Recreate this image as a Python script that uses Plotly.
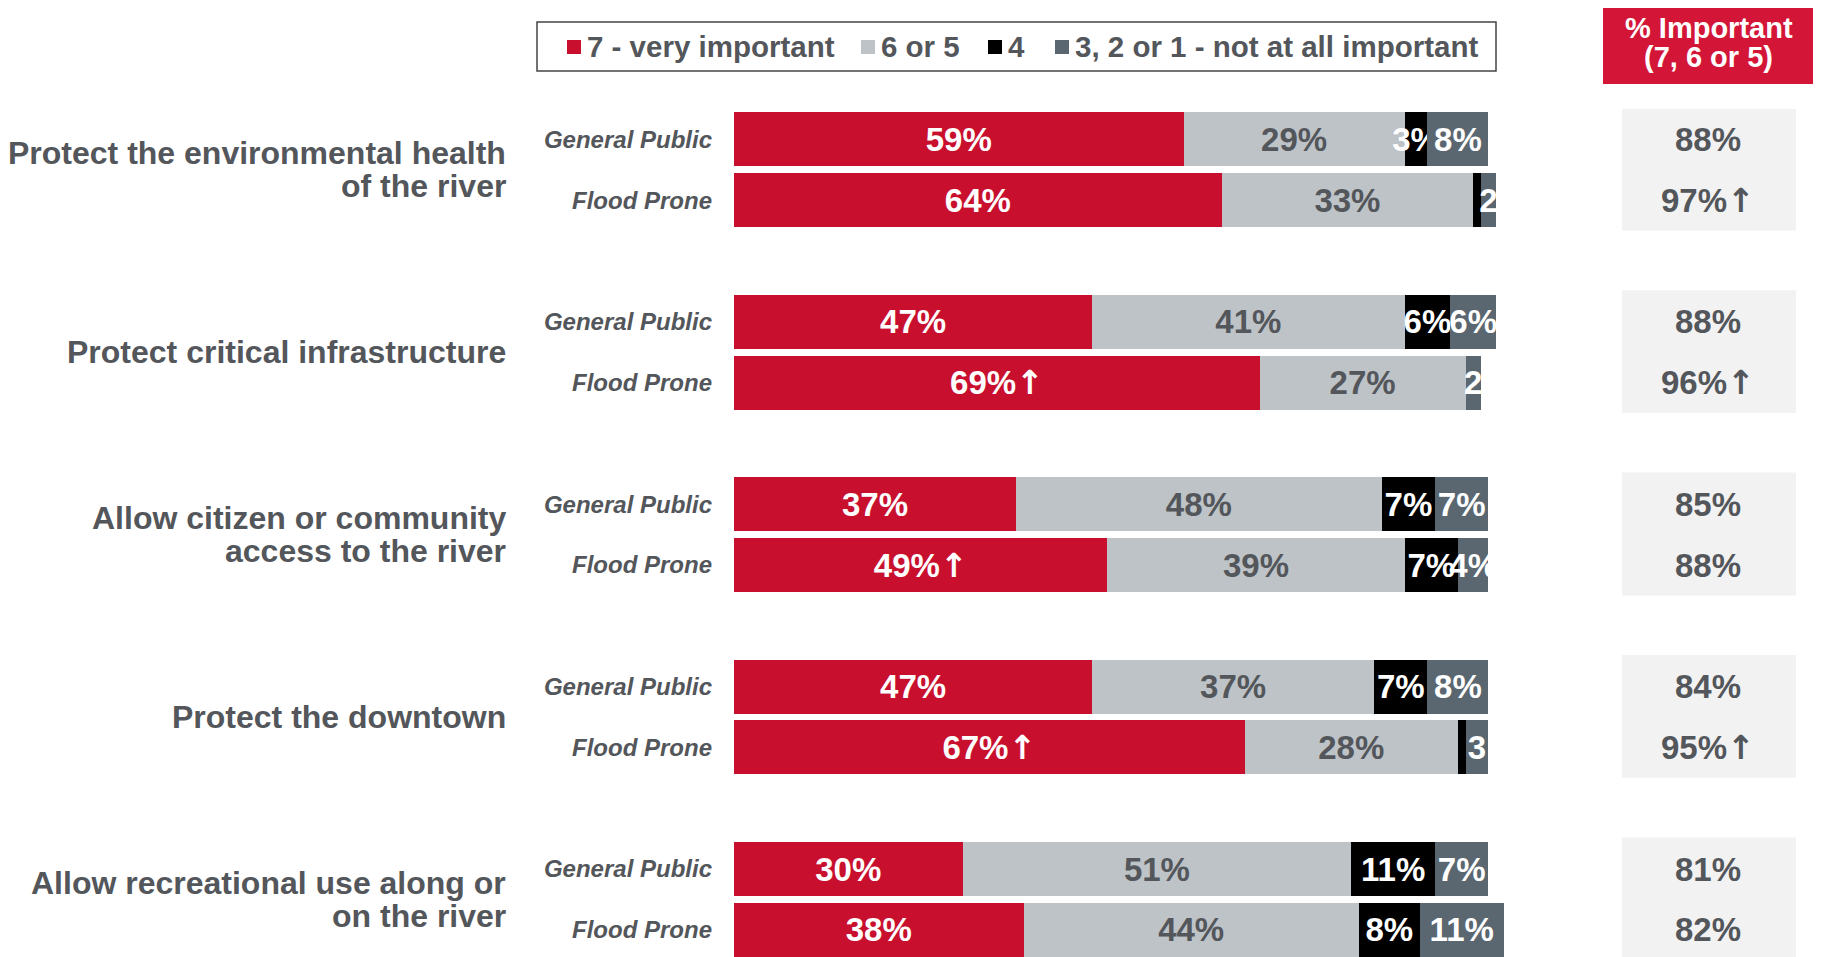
import plotly.graph_objects as go

W, H = 1821, 957
OFF = 8  # page body margin, positions below are measured on the page
MT, MB = 109 - OFF, 0

# ---- data ----
questions = [
    ["Protect the environmental health", "of the river"],
    ["Protect critical infrastructure"],
    ["Allow citizen or community", "access to the river"],
    ["Protect the downtown"],
    ["Allow recreational use along or", "on the river"],
]
groups = ["General Public", "Flood Prone"]
series_names = ["7 - very important", "6 or 5", "4", "3, 2 or 1 - not at all important"]

# rows: Q1 GP, Q1 FP, Q2 GP, Q2 FP, ...
very_important = [59, 64, 47, 69, 37, 49, 47, 67, 30, 38]
six_or_five = [29, 33, 41, 27, 48, 39, 37, 28, 51, 44]
four = [3, 1, 6, 0, 7, 7, 7, 1, 11, 8]
not_important = [8, 2, 6, 2, 7, 4, 8, 3, 7, 11]
important_total = [88, 97, 88, 96, 85, 88, 84, 95, 81, 82]

very_up = [False, False, False, True, False, True, False, True, False, False]
total_up = [False, True, False, True, False, False, False, True, False, False]

# labels as they show on the bars (tiny end segments are cut off)
four_labels = ["3%", "", "6%", "", "7%", "7%", "7%", "", "11%", "8%"]
not_labels = ["8%", "2", "6%", "2", "7%", "4%", "8%", "3", "7%", "11%"]

# ---- style ----
RED = "#C8102E"
LGRAY = "#BEC3C8"
BLACK = "#000000"
DGRAY = "#5B6770"
TXT = "#53565A"
HEAD_RED = "#D31637"
BOX = "#F2F2F2"
FONT = "Liberation Sans, Arial, sans-serif"
ARROW = '<span style="font-family:DejaVu Sans">\u2191</span>'

ypos = [3 * i + j for i in range(len(questions)) for j in range(len(groups))]
UNIT = 60.8  # px per y unit
Y0 = 139.4 - OFF  # px of first bar centre


def px_x(p):
    return (p - OFF) / W


def px_y(p):
    return (H - MB - (p - OFF)) / (H - MT - MB)


very_labels = [f"{v}%" + (ARROW if up else "") for v, up in zip(very_important, very_up)]
six_labels = [f"{v}%" for v in six_or_five]

fig = go.Figure()
for name, vals, labels, col, tcol in [
    (series_names[0], very_important, very_labels, RED, "white"),
    (series_names[1], six_or_five, six_labels, LGRAY, TXT),
    (series_names[2], four, four_labels, BLACK, "white"),
    (series_names[3], not_important, not_labels, DGRAY, "white"),
]:
    fig.add_trace(go.Bar(
        name=name, x=vals, y=ypos, orientation="h", width=0.89,
        marker=dict(color=col, line=dict(width=0)),
        text=labels, textposition="inside", insidetextanchor="middle",
        constraintext="none", textangle=0, cliponaxis=True,
        textfont=dict(family=FONT, size=33, color=tcol, weight="bold"),
        showlegend=False, hoverinfo="x+name",
    ))

shapes = []
annotations = []

# question labels on the left
for i, lines in enumerate(questions):
    n = len(lines)
    for k, line in enumerate(lines):
        annotations.append(dict(
            text=line, xref="paper", yref="y", x=px_x(508), y=3 * i + 0.5,
            xanchor="right", yanchor="middle", showarrow=False,
            yshift=(n - 1) * 16.5 - k * 33,
            font=dict(family=FONT, size=32, color=TXT, weight="bold"),
        ))

# right panel: % important
for i in range(len(questions)):
    shapes.append(dict(type="rect", xref="paper", yref="y",
                       x0=px_x(1622), x1=px_x(1796), y0=3 * i - 0.52, y1=3 * i + 1.5,
                       fillcolor=BOX, line=dict(width=0), layer="below"))
for y, v, up in zip(ypos, important_total, total_up):
    annotations.append(dict(
        text=f"{v}%" + (ARROW if up else ""), xref="paper", yref="y",
        x=px_x(1708), y=y, xanchor="center", yanchor="middle", showarrow=False,
        font=dict(family=FONT, size=33, color=TXT, weight="bold"),
    ))

# header box
shapes.append(dict(type="rect", xref="paper", yref="paper",
                   x0=px_x(1603), x1=px_x(1814), y0=px_y(84), y1=px_y(5),
                   fillcolor=HEAD_RED, line=dict(width=0)))
for txt, py in [("% Important", 28), ("(7, 6 or 5)", 57)]:
    annotations.append(dict(
        text=txt, xref="paper", yref="paper", x=px_x(1708.5), y=px_y(py),
        xanchor="center", yanchor="middle", showarrow=False,
        font=dict(family=FONT, size=29, color="white", weight="bold"),
    ))

# legend box (drawn by hand to get the tight spacing)
shapes.append(dict(type="rect", xref="paper", yref="paper",
                   x0=px_x(537), x1=px_x(1496), y0=px_y(71), y1=px_y(22),
                   fillcolor="white", line=dict(color="#444444", width=1.5)))
legend_x = [567, 861, 988, 1055]
for name, col, lx in zip(series_names, [RED, LGRAY, BLACK, DGRAY], legend_x):
    shapes.append(dict(type="rect", xref="paper", yref="paper",
                       x0=px_x(lx), x1=px_x(lx + 14), y0=px_y(54), y1=px_y(40),
                       fillcolor=col, line=dict(width=0)))
    annotations.append(dict(
        text=name, xref="paper", yref="paper", x=px_x(lx + 18), y=px_y(47),
        xanchor="left", yanchor="middle", showarrow=False,
        font=dict(family=FONT, size=29.5, color=TXT, weight="bold"),
    ))

fig.update_layout(
    width=W, height=H, barmode="stack",
    margin=dict(l=0, r=0, t=MT, b=MB),
    paper_bgcolor="white", plot_bgcolor="white",
    shapes=shapes, annotations=annotations,
    xaxis=dict(visible=False, range=[0, 102],
               domain=[px_x(734), px_x(734 + 102 * 7.62)]),
    yaxis=dict(range=[(H - MB - Y0) / UNIT, -(Y0 - MT) / UNIT], tickvals=ypos,
               ticktext=groups * len(questions),
               tickfont=dict(family=FONT, size=24, color=TXT, weight="bold", style="italic"),
               showgrid=False, zeroline=False, showline=False, ticks="",
               ticklabelstandoff=21, automargin=False),
    font=dict(family=FONT),
)

fig.write_html("out.html")
